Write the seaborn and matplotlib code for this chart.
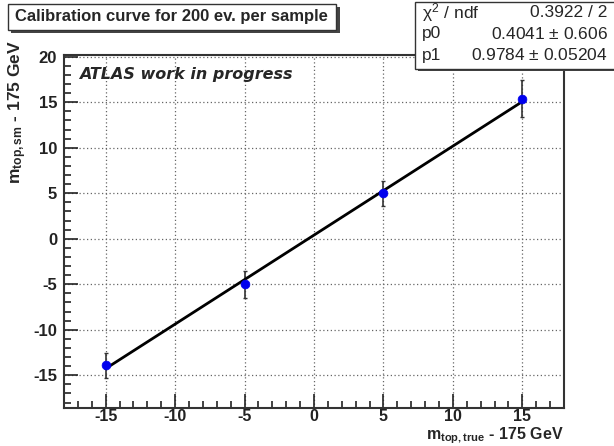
import numpy as np
import pandas as pd
import seaborn as sns
import matplotlib.pyplot as plt
from matplotlib.patches import Rectangle

# calibration points
m_true = [-15, -5, 5, 15]
m_sm = [-13.9, -5.0, 5.0, 15.4]
m_err = [1.4, 1.5, 1.4, 2.0]

# fit result shown in the stats box
p0 = 0.4041
p1 = 0.9784
stats_labels = ["$\\chi^2$ / ndf", "p0", "p1"]
stats_values = ["0.3922 / 2", "0.4041 $\\pm$ 0.606", "0.9784 $\\pm$ 0.05204"]

sns.set_style("ticks")
plt.rcParams['font.family'] = ['Liberation Sans', 'DejaVu Sans']
plt.rcParams['axes.unicode_minus'] = False
plt.rcParams['mathtext.fontset'] = 'custom'
plt.rcParams['mathtext.rm'] = 'Liberation Sans'
plt.rcParams['mathtext.it'] = 'Liberation Sans'
plt.rcParams['mathtext.bf'] = 'Liberation Sans:bold'

data = pd.DataFrame({"x": m_true, "y": m_sm, "err": m_err})
fit = pd.DataFrame({"x": [m_true[0], m_true[-1]]})
fit["y"] = p0 + p1 * fit["x"]

fig = plt.figure(figsize=(6.14, 4.46), dpi=100)
ax = fig.add_axes([0.1042, 0.0852, 0.8144, 0.7915])

# error bars, fit line, then points
ax.errorbar(data["x"], data["y"], yerr=data["err"], fmt="none",
            ecolor="#333333", elinewidth=1.2, capsize=1.5, zorder=2)
sns.lineplot(data=fit, x="x", y="y", color="black", linewidth=2, ax=ax, zorder=3)
sns.scatterplot(data=data, x="x", y="y", color="#0000ee", s=40,
                edgecolor="#0000ee", ax=ax, zorder=4)

ax.set_xlim(-18, 18)
ax.set_ylim(-18.6, 20.2)
ax.set_xticks([-15, -10, -5, 0, 5, 10, 15])
ax.set_yticks([-15, -10, -5, 0, 5, 10, 15, 20])
ax.set_xticks(np.arange(-17, 18, 1), minor=True)
ax.set_yticks(np.arange(-18, 21, 1), minor=True)
ax.tick_params(which="both", direction="in", top=False, right=False, width=1.2,
               colors="#222222")
ax.tick_params(which="major", length=10, labelsize=12)
ax.tick_params(axis="x", which="major", labelsize=11.5, pad=1)
ax.tick_params(axis="y", which="major", pad=5)
ax.tick_params(which="minor", length=5)
for lab in ax.get_xticklabels() + ax.get_yticklabels():
    lab.set_fontweight("bold")
ax.grid(True, which="major", linestyle=(0, (1, 2)), color="#666666", linewidth=0.9)
for sp in ax.spines.values():
    sp.set_linewidth(1.5)
    sp.set_color("#333333")

ax.set_xlabel("")
ax.set_ylabel("")
fig.text(0.918, 0.016, "$\\mathbf{m_{top,true}}$ - 175 GeV", ha="right", va="baseline",
         fontsize=11.5, fontweight="bold")
fig.text(0.01, 0.91, "$\\mathbf{m_{top,sm}}$ - 175 GeV", ha="left", va="top",
         rotation=90, fontsize=12.5, fontweight="bold")

ax.text(0.03, 0.965, "ATLAS work in progress", transform=ax.transAxes, ha="left",
        va="top", fontsize=11.5, fontweight="bold", style="italic",
        family=["DejaVu Sans"])

# title box
fig.patches.append(Rectangle((0.018, 0.925), 0.535, 0.06, transform=fig.transFigure,
                             facecolor="#444444", edgecolor="none", zorder=5))
fig.patches.append(Rectangle((0.013, 0.932), 0.535, 0.06, transform=fig.transFigure,
                             facecolor="white", edgecolor="#333333", linewidth=1,
                             zorder=6))
fig.text(0.28, 0.962, "Calibration curve for 200 ev. per sample", ha="center",
         va="center", fontsize=12, fontweight="bold", zorder=7)

# stats box
fig.patches.append(Rectangle((0.68, 0.84), 0.33, 0.155, transform=fig.transFigure,
                             facecolor="#444444", edgecolor="none", zorder=5))
fig.patches.append(Rectangle((0.676, 0.846), 0.33, 0.15, transform=fig.transFigure,
                             facecolor="white", edgecolor="#333333", linewidth=1,
                             zorder=6))
for i, (lab, val) in enumerate(zip(stats_labels, stats_values)):
    yy = 0.972 - i * 0.048
    fig.text(0.687, yy, lab, ha="left", va="center", fontsize=12.5, zorder=7)
    fig.text(0.99, yy, val, ha="right", va="center", fontsize=12.5, zorder=7)

fig.savefig("out.png", dpi=100)
